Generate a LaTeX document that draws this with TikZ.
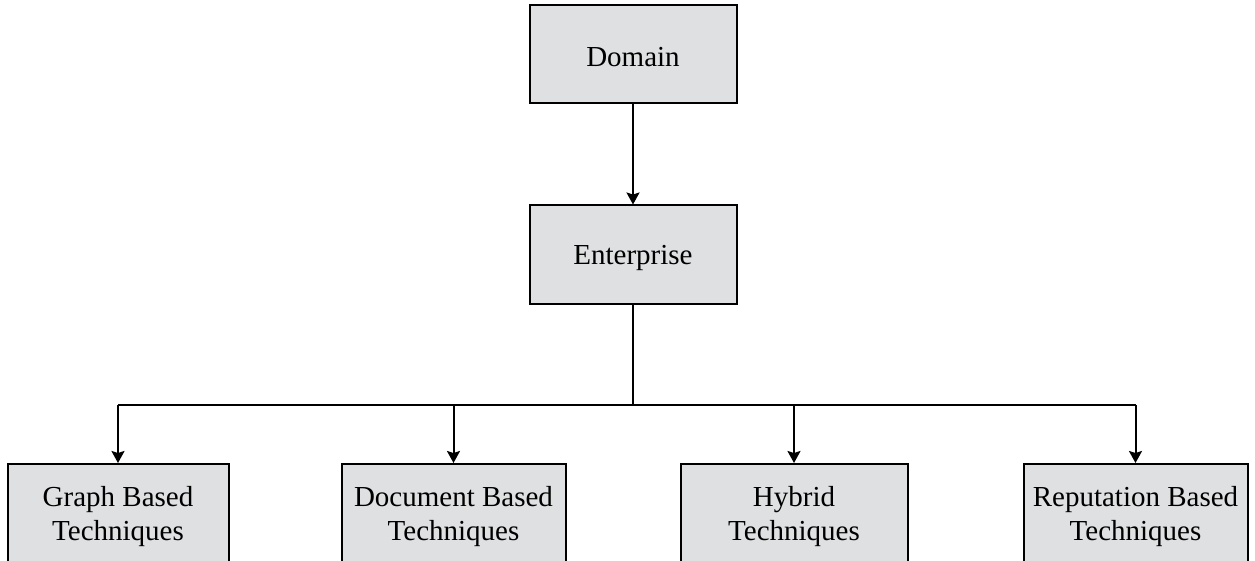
\documentclass[tikz,border=0pt]{standalone}
\usepackage{fontspec}
\setmainfont{Liberation Serif}
\usetikzlibrary{arrows.meta}
\definecolor{boxfill}{RGB}{222,224,225}
\tikzset{
  box/.style={draw=black, fill=boxfill, line width=2pt, rectangle, inner sep=0pt,
    minimum height=98pt},
  lbl/.style={inner sep=0pt, align=center, font=\fontsize{29}{34}\selectfont},
  conn/.style={line width=2pt, draw=black},
  arr/.style={conn, -{Stealth[length=12pt,width=13pt,inset=2pt]}}
}
\begin{document}
\begin{tikzpicture}[x=1pt,y=-1pt]
\useasboundingbox (0,0) rectangle (1255,561);
\node[box, minimum width=207pt] (dom) at (633,54.5) {};
\node[box, minimum width=207pt] (ent) at (633,254.5) {};
\node[box, minimum width=221pt] (g) at (118,513) {};
\node[box, minimum width=224pt] (d) at (453.5,513) {};
\node[box, minimum width=227pt] (h) at (794,513) {};
\node[box, minimum width=224pt] (r) at (1135.5,513) {};
\node[lbl] (domt) at ([yshift=-3pt]dom.center) {Domain};
\node[lbl] (entt) at ([yshift=-3pt]ent.center) {Enterprise};
\node[lbl] (gt) at ([yshift=-4pt]g.center) {Graph Based\\Techniques};
\node[lbl] (dt) at ([yshift=-4pt]d.center) {Document Based\\Techniques};
\node[lbl] (ht) at ([yshift=-4pt]h.center) {Hybrid\\Techniques};
\node[lbl] (rt) at ([yshift=-4pt]r.center) {Reputation Based\\Techniques};
\coordinate (bar) at (633,405);
\draw[arr] (dom.south) -- (ent.north);
\draw[conn] (ent.south) -- (bar);
\draw[conn] (bar -| g.north) -- (bar -| r.north);
\draw[arr] (bar -| g.north) -- (g.north);
\draw[arr] (bar -| d.north) -- (d.north);
\draw[arr] (bar -| h.north) -- (h.north);
\draw[arr] (bar -| r.north) -- (r.north);
\end{tikzpicture}
\end{document}
